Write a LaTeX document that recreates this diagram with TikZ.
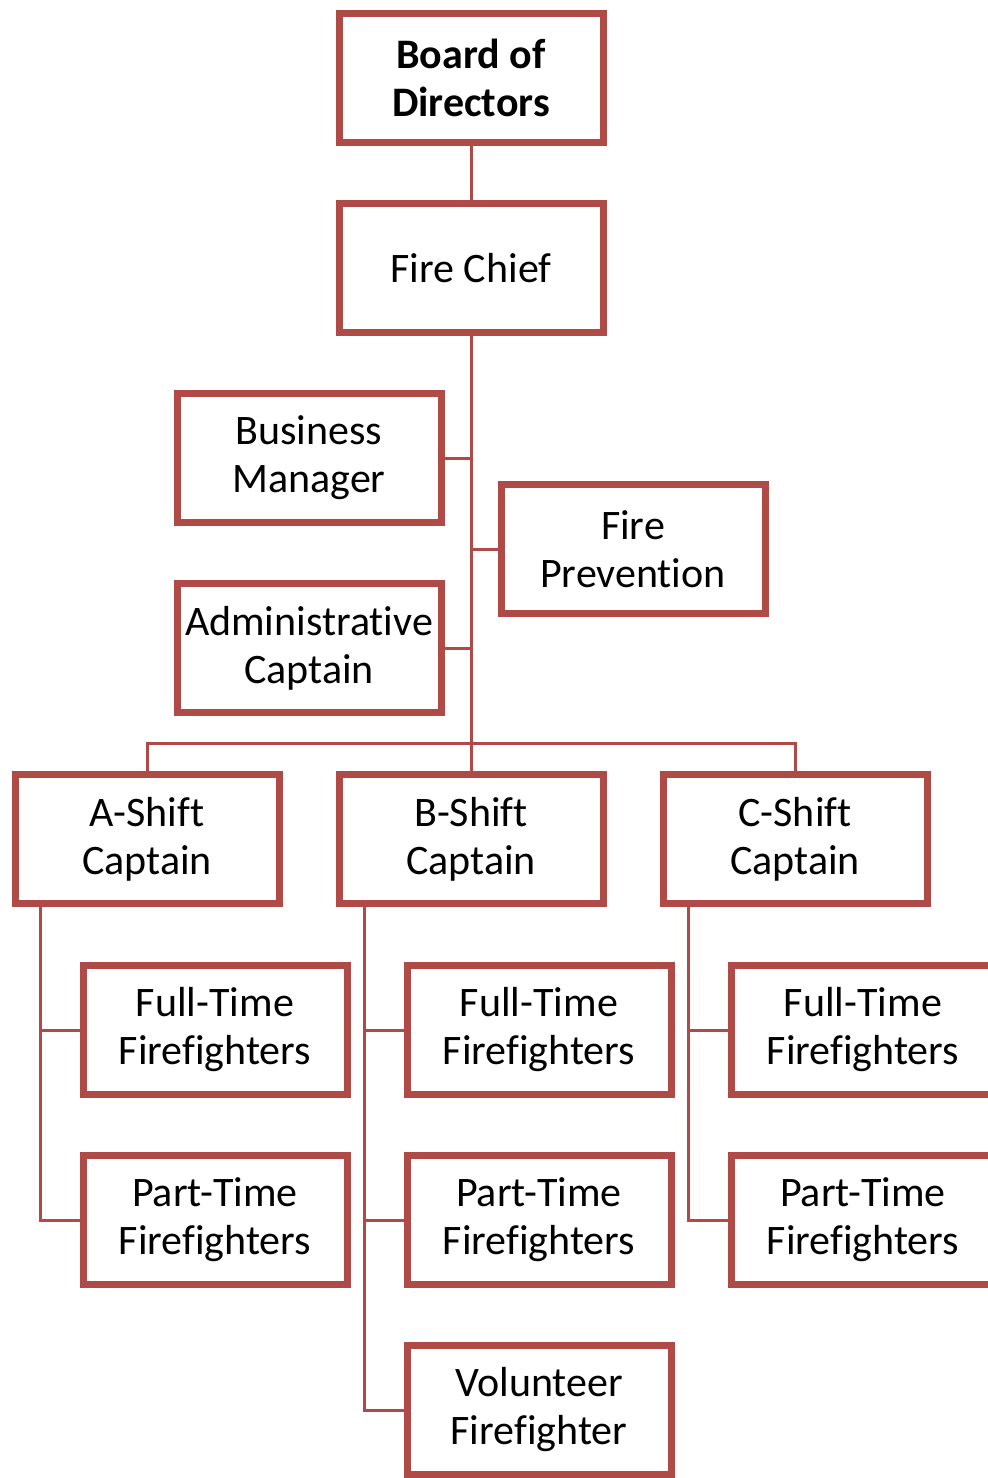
\documentclass[tikz,border=0pt]{standalone}
\usepackage{fontspec}
\setmainfont{Carlito}[Ligatures={NoCommon}]
\usetikzlibrary{shadows}
\definecolor{boxred}{RGB}{176,74,71}
\begin{document}
\begin{tikzpicture}[x=1pt,y=-1pt,
  orgbox/.style={draw=boxred, line width=7pt, fill=white, rectangle,
    minimum width=264pt, minimum height=129pt, inner sep=0pt,
    align=center, font=\fontsize{42}{48}\selectfont,
    drop shadow={shadow xshift=2pt, shadow yshift=-3pt, opacity=0.3, fill=gray}},
  link/.style={draw=boxred, line width=3pt}]
\useasboundingbox (0,0) rectangle (988,1478);
\clip (0,0) rectangle (988,1478);
\coordinate (trunkbot) at (471,743);
\coordinate (barA) at (147,743);
\coordinate (barC) at (795,743);
\node[orgbox] (board) at (471,78) {\textbf{Board of}\\\textbf{Directors}};
\node[orgbox] (chief) at (471,268) {Fire Chief};
\node[orgbox] (biz) at (309,458) {Business\\Manager};
\node[orgbox] (prev) at (633,549) {Fire\\Prevention};
\node[orgbox] (admin) at (309,648) {Administrative\\Captain};
\node[orgbox] (ashift) at (147,839) {A-Shift\\Captain};
\node[orgbox] (bshift) at (471,839) {B-Shift\\Captain};
\node[orgbox] (cshift) at (795,839) {C-Shift\\Captain};
\node[orgbox] (aft) at (215,1030) {Full-Time\\Firefighters};
\node[orgbox] (apt) at (215,1220) {Part-Time\\Firefighters};
\node[orgbox] (bft) at (539,1030) {Full-Time\\Firefighters};
\node[orgbox] (bpt) at (539,1220) {Part-Time\\Firefighters};
\node[orgbox] (bvol) at (539,1410) {Volunteer\\Firefighter};
\node[orgbox] (cft) at (863,1030) {Full-Time\\Firefighters};
\node[orgbox] (cpt) at (863,1220) {Part-Time\\Firefighters};
% connectors
\draw[link] (board.south) -- (chief.north);
\draw[link] (chief.south) -- (trunkbot);
\draw[link] (biz.east) -- (biz.east -| chief.south);
\draw[link] (prev.west) -- (prev.west -| chief.south);
\draw[link] (admin.east) -- (admin.east -| chief.south);
\draw[link] (ashift.north) -- (barA) -- (barC) -- (cshift.north);
\draw[link] (trunkbot) -- (bshift.north);
\coordinate (aj) at ([xshift=29pt]ashift.south west);
\coordinate (bj) at ([xshift=29pt]bshift.south west);
\coordinate (cj) at ([xshift=29pt]cshift.south west);
\draw[link] (aj) |- (apt.west);
\draw[link] (aft.west) -- (aft.west -| aj);
\draw[link] (bj) |- (bvol.west);
\draw[link] (bft.west) -- (bft.west -| bj);
\draw[link] (bpt.west) -- (bpt.west -| bj);
\draw[link] (cj) |- (cpt.west);
\draw[link] (cft.west) -- (cft.west -| cj);
\end{tikzpicture}
\end{document}
